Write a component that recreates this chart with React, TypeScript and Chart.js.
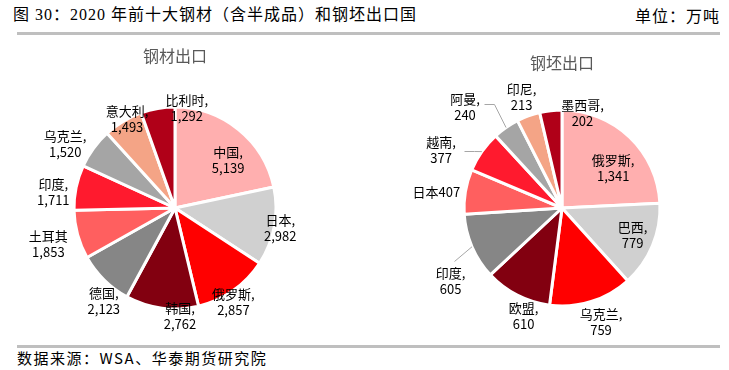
import React, { useEffect, useRef } from 'react';
import { Chart, registerables } from 'chart.js';

Chart.register(...registerables);

// ---- data ----
const steelCountries = ['中国', '日本', '俄罗斯', '韩国', '德国', '土耳其', '印度', '乌克兰', '意大利', '比利时'];
const steelValues = [5139, 2982, 2857, 2762, 2123, 1853, 1711, 1520, 1493, 1292];
const billetCountries = ['俄罗斯', '巴西', '乌克兰', '欧盟', '印度', '日本', '越南', '阿曼', '印尼', '墨西哥'];
const billetValues = [1341, 779, 759, 610, 605, 407, 377, 240, 213, 202];

// ---- styles ----
const sliceColors = ['#FFAFAF', '#D0D0D0', '#FF0000', '#820010', '#868686', '#FF5F5F', '#FF1A2E', '#A5A5A5', '#F4A486', '#B00018'];
type LabelMode = 'two' | 'twoNoComma' | 'one';
// [radius factor, dx, dy, mode]
const steelLabelPos: [number, number, number, LabelMode][] = [
  [0.71, 8, 8, 'two'], [1.06, 0, 0, 'two'], [1.09, -5, 4, 'two'], [1.07, 19, 1, 'two'], [1.16, 11, 10, 'two'],
  [1.3, 0, 1, 'twoNoComma'], [1.21, -2, 9, 'two'], [1.25, -8, 11, 'two'], [1.0, 4, -2, 'two'], [1.0, 29, 0, 'two'],
];
const billetLabelPos: [number, number, number, LabelMode][] = [
  [0.668, 6, 7, 'two'], [0.77, 1, -2, 'two'], [1.23, 3, -1, 'two'], [1.17, 14, 6, 'two'], [1.36, 11, 20, 'two'],
  [1.29, -1, 5, 'one'], [1.37, -11, 19, 'two'], [1.43, -17, 14, 'two'], [1.2, 0, 0, 'two'], [1.03, 32, 5, 'two'],
];
// index -> [start dx, start dy, horizontal length] relative to label centre
const billetLeaders: Record<number, [number, number, number]> = {
  4: [3, -20, 0],
  6: [23, 1, 10],
  7: [19, -3, 10],
};

const LABEL_FONT = '13px "Noto Sans CJK SC", sans-serif';

function makeLabelPlugin(positions: [number, number, number, LabelMode][], leaders: Record<number, [number, number, number]>) {
  return {
    id: 'sliceLabels',
    afterDatasetsDraw(chart: any) {
      const { ctx } = chart;
      const meta = chart.getDatasetMeta(0);
      const labels = chart.data.labels as string[];
      const values = chart.data.datasets[0].data as number[];
      ctx.save();
      ctx.font = LABEL_FONT;
      ctx.textAlign = 'center';
      ctx.textBaseline = 'middle';
      meta.data.forEach((arc: any, i: number) => {
        const { x, y, startAngle, endAngle, outerRadius } = arc.getProps(['x', 'y', 'startAngle', 'endAngle', 'outerRadius'], true);
        const mid = (startAngle + endAngle) / 2;
        const [f, dx, dy, mode] = positions[i];
        const lx = x + Math.cos(mid) * outerRadius * f + dx;
        const ly = y + Math.sin(mid) * outerRadius * f + dy;
        const v = Number(values[i]).toLocaleString('en-US');
        const ld = leaders[i];
        if (ld) {
          ctx.strokeStyle = '#A6A6A6';
          ctx.lineWidth = 1;
          ctx.beginPath();
          const sx = Math.round(lx + ld[0]) + 0.5;
          const sy = Math.round(ly + ld[1]) + 0.5;
          ctx.moveTo(sx, sy);
          ctx.lineTo(sx + ld[2], sy);
          ctx.lineTo(x + Math.cos(mid) * outerRadius, y + Math.sin(mid) * outerRadius);
          ctx.stroke();
        }
        ctx.fillStyle = '#000000';
        if (mode === 'one') {
          ctx.fillText(labels[i] + v, lx, ly);
        } else {
          ctx.fillText(labels[i] + (mode === 'two' ? ',' : ''), lx, ly - 8);
          ctx.fillText(v, lx, ly + 8);
        }
      });
      ctx.restore();
    },
  };
}

function PieChart(props: {
  labels: string[];
  values: number[];
  radius: number;
  padding: { top: number; left: number; right: number; bottom: number };
  positions: [number, number, number, LabelMode][];
  leaders?: Record<number, [number, number, number]>;
  width: number;
  height: number;
}) {
  const ref = useRef<HTMLCanvasElement>(null);
  useEffect(() => {
    if (!ref.current) return;
    const chart = new Chart(ref.current, {
      type: 'pie',
      data: {
        labels: props.labels,
        datasets: [
          {
            data: props.values,
            backgroundColor: sliceColors,
            borderColor: '#FFFFFF',
            borderWidth: 3,
            radius: props.radius,
            hoverOffset: 0,
          } as any,
        ],
      },
      options: {
        responsive: false,
        animation: false,
        layout: { padding: props.padding },
        plugins: {
          legend: { display: false },
          tooltip: { enabled: false },
        },
      },
      plugins: [makeLabelPlugin(props.positions, props.leaders || {})],
    });
    return () => chart.destroy();
  }, []);
  return <canvas ref={ref} width={props.width} height={props.height} style={{ width: props.width, height: props.height }} />;
}

export default function App() {
  const headerFont = '"Liberation Serif", "Noto Sans CJK SC", serif';
  const cjk = '"Noto Sans CJK SC", sans-serif';
  return (
    <div style={{ position: 'absolute', left: 0, top: 0, width: 729, height: 370, background: '#fff', overflow: 'hidden' }}>
      <div style={{ position: 'absolute', left: 13, top: 5, fontFamily: headerFont, fontSize: 16, letterSpacing: 1, lineHeight: '20px', color: '#000', whiteSpace: 'nowrap' }}>
        图 30：2020 年前十大钢材（含半成品）和钢坯出口国
      </div>
      <div style={{ position: 'absolute', right: 9, top: 5, fontFamily: cjk, fontSize: 16, letterSpacing: 1, lineHeight: '20px', color: '#000', whiteSpace: 'nowrap' }}>
        单位：万吨
      </div>
      <div style={{ position: 'absolute', left: 17, top: 32, width: 703, height: 3, background: '#BFBFBF' }} />

      <div style={{ position: 'absolute', left: 0, top: 40 }}>
        <PieChart
          labels={steelCountries}
          values={steelValues}
          radius={101}
          padding={{ top: 36, left: 0, right: 10, bottom: 0 }}
          positions={steelLabelPos}
          width={360}
          height={300}
        />
      </div>
      <div style={{ position: 'absolute', left: 360, top: 40 }}>
        <PieChart
          labels={billetCountries}
          values={billetValues}
          radius={98}
          padding={{ top: 36, left: 35, right: 0, bottom: 0 }}
          positions={billetLabelPos}
          leaders={billetLeaders}
          width={369}
          height={300}
        />
      </div>
      <div style={{ position: 'absolute', left: 0, width: 350, top: 45, textAlign: 'center', fontFamily: cjk, fontSize: 16, lineHeight: '20px', color: '#595959' }}>
        钢材出口
      </div>
      <div style={{ position: 'absolute', left: 395, width: 334, top: 52, textAlign: 'center', fontFamily: cjk, fontSize: 16, lineHeight: '20px', color: '#595959' }}>
        钢坯出口
      </div>

      <div style={{ position: 'absolute', left: 17, top: 345, width: 703, height: 3, background: '#BFBFBF' }} />
      <div style={{ position: 'absolute', left: 17, top: 348, fontFamily: cjk, fontSize: 15, letterSpacing: 1.5, lineHeight: '20px', color: '#000', whiteSpace: 'nowrap' }}>
        数据来源：WSA、华泰期货研究院
      </div>
    </div>
  );
}
